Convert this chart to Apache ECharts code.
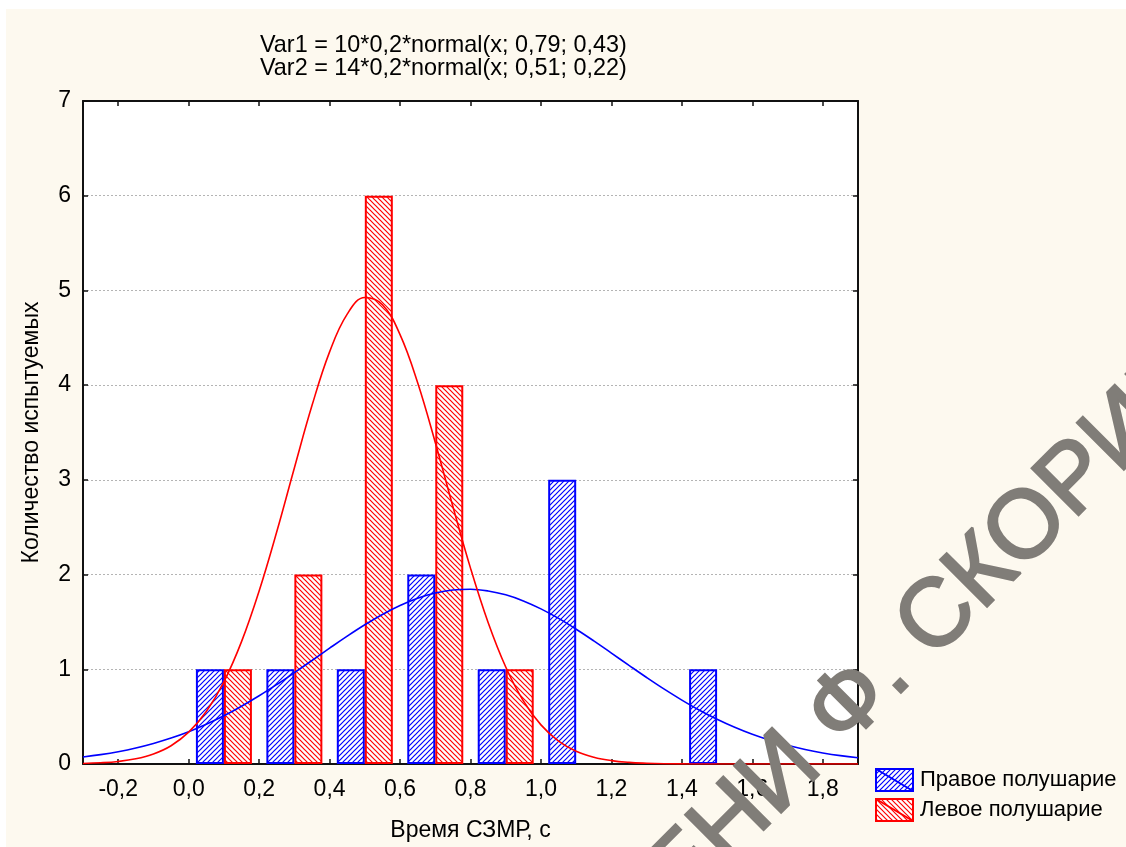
<!DOCTYPE html>
<html>
<head>
<meta charset="utf-8">
<script src="https://cdn.jsdelivr.net/npm/echarts@6/dist/echarts.min.js"></script>
<style>
  html, body { margin: 0; padding: 0; background: #fff; }
  #chart { width: 1126px; height: 847px; }
</style>
</head>
<body>
<div id="chart"></div>
<script>
// bins of the histogram (centres, s)
const binCenters = [0.1, 0.3, 0.5, 0.7, 0.9, 1.1, 1.3, 1.5]
const rightCounts = [1, 1, 1, 2, 1, 3, 0, 1] // Правое полушарие
const leftCounts = [1, 2, 6, 4, 1, 0, 0, 0] // Левое полушарие

// fitted normal curves, every 0.05
const curveX = [
  -0.3, -0.25, -0.2, -0.15, -0.1, -0.05, 0, 0.05, 0.1, 0.15, 0.2, 0.25, 0.3, 0.35, 0.4,
  0.45, 0.5, 0.55, 0.6, 0.65, 0.7, 0.75, 0.8, 0.85, 0.9, 0.95, 1.0, 1.05, 1.1, 1.15,
  1.2, 1.25, 1.3, 1.35, 1.4, 1.45, 1.5, 1.55, 1.6, 1.65, 1.7, 1.75, 1.8, 1.85, 1.9,
]
const rightCurve = [
  0.074, 0.099, 0.130, 0.169, 0.217, 0.274, 0.341, 0.420, 0.509, 0.610, 0.720, 0.839, 0.964, 1.093, 1.223,
  1.350, 1.470, 1.579, 1.673, 1.750, 1.805, 1.837, 1.845, 1.827, 1.786, 1.722, 1.638, 1.537, 1.423, 1.300,
  1.171, 1.041, 0.913, 0.790, 0.675, 0.568, 0.472, 0.387, 0.313, 0.250, 0.197, 0.153, 0.117, 0.088, 0.066,
]
const leftCurve = [
  0.006, 0.013, 0.027, 0.055, 0.106, 0.193, 0.336, 0.554, 0.868, 1.292, 1.827, 2.452, 3.126, 3.784, 4.351,
  4.750, 4.925, 4.849, 4.534, 4.026, 3.395, 2.719, 2.068, 1.494, 1.024, 0.667, 0.413, 0.242, 0.135, 0.072,
  0.036, 0.017, 0.008, 0.003, 0.001, 0, 0, 0, 0, 0, 0, 0, 0, 0, 0,
]

const xTicks = [-0.2, 0, 0.2, 0.4, 0.6, 0.8, 1.0, 1.2, 1.4, 1.6, 1.8]

const titleLines = [
  'Var1 = 10*0,2*normal(x; 0,79; 0,43)',
  'Var2 = 14*0,2*normal(x; 0,51; 0,22)',
]

const FONT = '"Liberation Sans", Arial, sans-serif'
const FS = 23
const BLUE = '#0000ff'
const RED = '#ff0000'
const MARK = '#807d78'

// diagonal hatch fill like in Statistica
function hatch(color, dir) {
  const s = 5
  const c = document.createElement('canvas')
  c.width = c.height = s
  const g = c.getContext('2d')
  g.fillStyle = '#fff'
  g.fillRect(0, 0, s, s)
  g.strokeStyle = color
  g.lineWidth = 1.2
  g.beginPath()
  if (dir > 0) {
    g.moveTo(-1, s + 1); g.lineTo(s + 1, -1)
    g.moveTo(-s, s); g.lineTo(s, -s)
    g.moveTo(0, 2 * s); g.lineTo(2 * s, 0)
  } else {
    g.moveTo(-1, -1); g.lineTo(s + 1, s + 1)
    g.moveTo(-s, 0); g.lineTo(s, 2 * s)
    g.moveTo(0, -s); g.lineTo(2 * s, s)
  }
  g.stroke()
  return { image: c, repeat: 'repeat' }
}

const bluePattern = hatch(BLUE, 1)
const redPattern = hatch(RED, -1)

const toBars = (counts) => binCenters.map((x, i) => (counts[i] ? [x, counts[i]] : null)).filter(Boolean)
const toLine = (ys) => curveX.map((x, i) => [x, ys[i]])
const fmt = (v) => v.toFixed(1).replace('.', ',')

const chart = echarts.init(document.getElementById('chart'))

const legendIcon = 'path://M0,0L37,0L37,22L0,22ZM0,0L37,22'

// watermark over the picture
const markText = (text, align) => ({
  type: 'text',
  z: 100,
  silent: true,
  x: 876,
  y: 680,
  rotation: Math.PI / 4,
  style: {
    text: text,
    align: align,
    verticalAlign: 'middle',
    font: 'normal 96px ' + FONT,
    fill: MARK,
    stroke: MARK,
    lineWidth: 2.5,
  },
})

chart.setOption({
  animation: false,
  textStyle: { fontFamily: FONT },
  title: {
    text: titleLines.join('\n'),
    left: 255,
    top: 29,
    textStyle: { fontFamily: FONT, fontSize: 23.4, fontWeight: 'normal', color: '#000', lineHeight: 23 },
  },
  graphic: [
    {
      type: 'rect',
      z: -10,
      silent: true,
      shape: { x: 6, y: 9, width: 1120, height: 838 },
      style: { fill: '#fdf9ef' },
    },
    markText('ГГУ ИМЕНИ Ф', 'right'),
    markText('. СКОРИНЫ', 'left'),
  ],
  legend: {
    orient: 'vertical',
    left: 870,
    top: 763,
    itemWidth: 37,
    itemHeight: 22,
    itemGap: 6,
    selectedMode: false,
    textStyle: { fontFamily: FONT, fontSize: 22, color: '#000', padding: [0, 0, 0, 2] },
    data: [
      { name: 'Правое полушарие', icon: legendIcon, itemStyle: { color: bluePattern, borderColor: BLUE, borderWidth: 2 } },
      { name: 'Левое полушарие', icon: legendIcon, itemStyle: { color: redPattern, borderColor: RED, borderWidth: 2 } },
    ],
  },
  grid: {
    left: 83,
    right: 268,
    top: 101,
    bottom: 81,
    show: true,
    backgroundColor: '#fff',
    borderWidth: 0,
  },
  xAxis: [
    {
      type: 'value',
      min: -0.3,
      max: 1.9,
      position: 'bottom',
      name: 'Время СЗМР, с',
      nameLocation: 'middle',
      nameGap: 55,
      nameTextStyle: { fontFamily: FONT, fontSize: FS, color: '#000' },
      axisLine: { show: true, onZero: false, lineStyle: { color: '#111', width: 2 } },
      axisTick: { show: true, inside: true, length: 5, customValues: xTicks, lineStyle: { color: '#111', width: 1.5 } },
      axisLabel: { customValues: xTicks, formatter: fmt, fontSize: FS, color: '#000', margin: 14, hideOverlap: false },
      splitLine: { show: false },
    },
    {
      type: 'value',
      min: -0.3,
      max: 1.9,
      position: 'top',
      axisLine: { show: true, onZero: false, lineStyle: { color: '#111', width: 2 } },
      axisTick: { show: true, inside: true, length: 5, customValues: xTicks, lineStyle: { color: '#111', width: 1.5 } },
      axisLabel: { show: false },
      splitLine: { show: false },
    },
  ],
  yAxis: [
    {
      type: 'value',
      min: 0,
      max: 7,
      interval: 1,
      position: 'left',
      name: 'Количество испытуемых',
      nameLocation: 'middle',
      nameGap: 40,
      nameTextStyle: { fontFamily: FONT, fontSize: FS, color: '#000' },
      axisLine: { show: true, onZero: false, lineStyle: { color: '#111', width: 2 } },
      axisTick: { show: true, inside: true, length: 5, lineStyle: { color: '#111', width: 1.5 } },
      axisLabel: { fontSize: FS, color: '#000', margin: 12 },
      splitLine: { show: true, lineStyle: { color: '#b4b4b4', width: 1, type: [2, 2] } },
    },
    {
      type: 'value',
      min: 0,
      max: 7,
      interval: 1,
      position: 'right',
      axisLine: { show: true, onZero: false, lineStyle: { color: '#111', width: 2 } },
      axisTick: { show: true, inside: true, length: 5, lineStyle: { color: '#111', width: 1.5 } },
      axisLabel: { show: false },
      splitLine: { show: false },
    },
  ],
  series: [
    {
      name: 'Правое полушарие',
      type: 'bar',
      barWidth: 28,
      barGap: '0%',
      data: toBars(rightCounts),
      itemStyle: { color: bluePattern, borderColor: BLUE, borderWidth: 2 },
    },
    {
      name: 'Var1',
      type: 'line',
      data: toLine(rightCurve),
      showSymbol: false,
      smooth: 0.4,
      lineStyle: { color: BLUE, width: 1.6 },
      itemStyle: { color: BLUE },
    },
    {
      name: 'Левое полушарие',
      type: 'bar',
      barWidth: 28,
      barGap: '0%',
      data: toBars(leftCounts),
      itemStyle: { color: redPattern, borderColor: RED, borderWidth: 2 },
    },
    {
      name: 'Var2',
      type: 'line',
      data: toLine(leftCurve),
      showSymbol: false,
      smooth: 0.4,
      lineStyle: { color: RED, width: 1.6 },
      itemStyle: { color: RED },
    },
  ],
})
</script>
</body>
</html>
